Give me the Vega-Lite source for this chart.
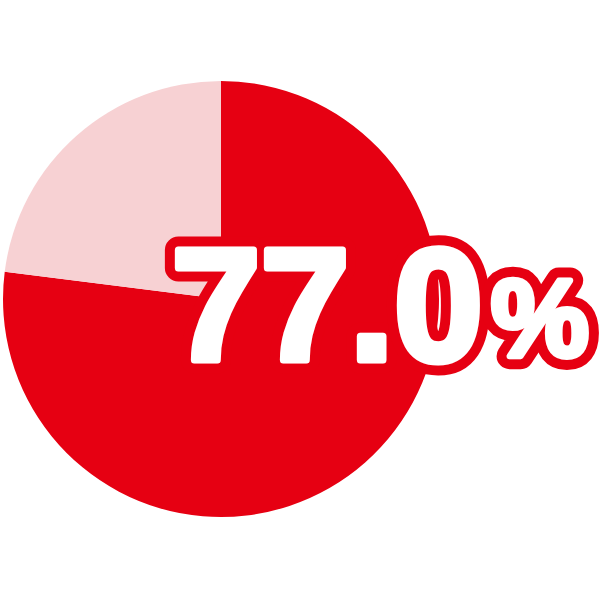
{
  "$schema": "https://vega.github.io/schema/vega-lite/v6.json",
  "description": "Share pie with a big percentage label",
  "autosize": "none",
  "width": 436,
  "height": 436,
  "padding": {"left": 3, "top": 81, "right": 161, "bottom": 83},
  "background": "white",
  "data": {
    "values": [
      {"category": "yes", "share": 77.0},
      {"category": "no", "share": 23.0}
    ]
  },
  "layer": [
    {
      "mark": {"type": "arc"},
      "encoding": {
        "theta": {"field": "share", "type": "quantitative", "stack": true},
        "order": {"field": "share", "sort": "descending"},
        "color": {
          "field": "category",
          "type": "nominal",
          "scale": {"domain": ["yes", "no"], "range": ["#e60012", "#f7d1d3"]},
          "legend": null
        }
      }
    },
    {
      "transform": [{"filter": "datum.category === 'yes'"}],
      "mark": {
        "type": "text",
        "align": "right",
        "baseline": "alphabetic",
        "dx": 262,
        "dy": 61,
        "font": "Liberation Sans",
        "fontWeight": "bold",
        "fontSize": 160,
        "fill": "#e60012",
        "stroke": "#e60012",
        "strokeWidth": 27,
        "strokeJoin": "round"
      },
      "encoding": {"text": {"field": "share", "type": "quantitative", "format": ".1f"}}
    },
    {
      "transform": [{"filter": "datum.category === 'yes'"}],
      "mark": {
        "type": "text",
        "align": "left",
        "baseline": "alphabetic",
        "dx": 270,
        "dy": 57,
        "font": "Liberation Sans",
        "fontWeight": "bold",
        "fontSize": 110,
        "fill": "#e60012",
        "stroke": "#e60012",
        "strokeWidth": 26,
        "strokeJoin": "round"
      },
      "encoding": {"text": {"value": "%"}}
    },
    {
      "transform": [{"filter": "datum.category === 'yes'"}],
      "mark": {
        "type": "text",
        "align": "right",
        "baseline": "alphabetic",
        "dx": 262,
        "dy": 61,
        "font": "Liberation Sans",
        "fontWeight": "bold",
        "fontSize": 160,
        "fill": "white",
        "stroke": "white",
        "strokeWidth": 7,
        "strokeJoin": "round"
      },
      "encoding": {"text": {"field": "share", "type": "quantitative", "format": ".1f"}}
    },
    {
      "transform": [{"filter": "datum.category === 'yes'"}],
      "mark": {
        "type": "text",
        "align": "left",
        "baseline": "alphabetic",
        "dx": 270,
        "dy": 57,
        "font": "Liberation Sans",
        "fontWeight": "bold",
        "fontSize": 110,
        "fill": "white",
        "stroke": "white",
        "strokeWidth": 6,
        "strokeJoin": "round"
      },
      "encoding": {"text": {"value": "%"}}
    }
  ],
  "config": {"view": {"stroke": null}}
}
